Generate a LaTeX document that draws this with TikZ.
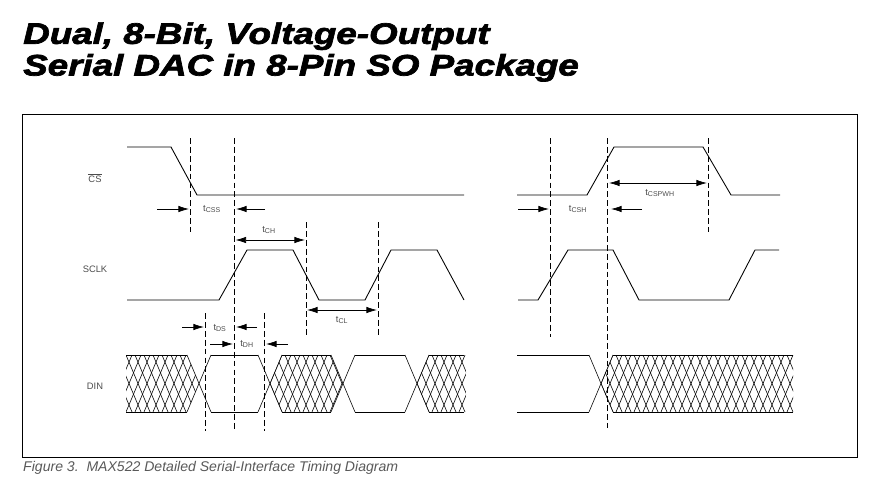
\documentclass[tikz,border=0pt]{standalone}
\usepackage{fontspec}
\setmainfont{Liberation Sans}
\newfontfamily\headingfont[FakeStretch=1.24, FakeBold=2.4]{Liberation Sans}
\usepackage{tikz}
\usetikzlibrary{arrows.meta}

\tikzset{
  signal/.style={line width=0.75pt},
  guide/.style={line width=0.65pt, dash pattern=on 5pt off 2.6pt},
  hatch/.style={line width=0.5pt},
  timing/.style={line width=0.65pt, -{Latex[length=9pt,width=5.5pt]}},
  span/.style={line width=0.65pt, {Latex[length=9pt,width=5.5pt]}-{Latex[length=9pt,width=5.5pt]}},
  label/.style={text=black!70, font=\fontsize{8}{9}\selectfont, inner sep=0pt},
}

\begin{document}
\begin{tikzpicture}[x=0.3mm, y=-0.3mm]

  \useasboundingbox (0, 0) rectangle (880, 490);

  % Heading and caption
  \node[anchor=west, align=left, inner sep=0pt, font=\fontsize{25.3}{27}\headingfont\bfseries\itshape] (heading) at (23, 52)
    {Dual, 8-Bit, Voltage-Output\\Serial DAC in 8-Pin SO Package};
  \node[anchor=west, inner sep=0pt, text=black!65, font=\fontsize{12}{14}\selectfont\itshape] (caption) at (23, 468)
    {Figure 3.\ \ MAX522 Detailed Serial-Interface Timing Diagram};

  \draw[line width=0.6pt] (22, 114) rectangle (857, 457);

  % Signal names
  \node[label] (cs) at (95, 178) {$\overline{\mbox{CS}}$};
  \node[label] (sclk) at (95, 269) {SCLK};
  \node[label] (din) at (95, 386) {DIN};

  % Left part
  \draw[signal] (127, 147) -- (171, 147) -- (197, 195) -- (464, 195);
  \draw[signal] (127, 300) -- (219, 300) -- (247, 250) -- (293, 250) -- (319, 300)
    -- (365, 300) -- (391, 250) -- (437, 250) -- (464, 300);

  \draw[guide] (190, 138) -- (190, 232);
  \draw[guide] (234.5, 138) -- (234.5, 431);
  \draw[guide] (306, 222) -- (306, 337);
  \draw[guide] (378, 222) -- (378, 337);
  \draw[guide] (205, 313) -- (205, 431);
  \draw[guide] (264.5, 313) -- (264.5, 431);

  % Right part
  \draw[signal] (517, 195) -- (587, 195) -- (614, 147) -- (703, 147) -- (731, 195) -- (780, 195);
  \draw[signal] (518, 300) -- (538, 300) -- (568, 250) -- (613, 250) -- (639, 300)
    -- (729, 300) -- (755, 250) -- (779, 250);

  \draw[guide] (550, 138) -- (550, 337);
  \draw[guide] (607, 138) -- (607, 428);
  \draw[guide] (708.5, 138) -- (708.5, 232);

  % DIN levels and edges
  \foreach \xa/\xb in {126/187, 211/258, 282/331, 355/405, 429/464, 517/589, 613/793} {
    \draw[signal] (\xa, 355) -- (\xb, 355);
    \draw[signal] (\xa, 412) -- (\xb, 412);
  }
  \foreach \xa/\xb in {187/211, 258/282, 331/355, 405/429, 589/613} {
    \draw[hatch] (\xa, 355) -- (\xb, 412);
    \draw[hatch] (\xa, 412) -- (\xb, 355);
  }

  % DIN don't-care regions
  \begin{scope}
    \clip (126, 355) -- (187, 355) -- (199, 383.5) -- (187, 412) -- (126, 412) -- cycle;
    \foreach \k in {0,...,10} {
      \draw[hatch] (108 + 9*\k, 355) -- (132 + 9*\k, 412);
      \draw[hatch] (132 + 9*\k, 355) -- (108 + 9*\k, 412);
    }
  \end{scope}
  \begin{scope}
    \clip (270, 383.5) -- (282, 355) -- (331, 355) -- (343, 383.5) -- (331, 412) -- (282, 412) -- cycle;
    \foreach \k in {0,...,10} {
      \draw[hatch] (258 + 9*\k, 355) -- (282 + 9*\k, 412);
      \draw[hatch] (282 + 9*\k, 355) -- (258 + 9*\k, 412);
    }
  \end{scope}
  \begin{scope}
    \clip (417, 383.5) -- (429, 355) -- (466, 355) -- (466, 412) -- (429, 412) -- cycle;
    \foreach \k in {0,...,7} {
      \draw[hatch] (405 + 9*\k, 355) -- (429 + 9*\k, 412);
      \draw[hatch] (429 + 9*\k, 355) -- (405 + 9*\k, 412);
    }
  \end{scope}
  \begin{scope}
    \clip (601, 383.5) -- (613, 355) -- (793, 355) -- (793, 412) -- (613, 412) -- cycle;
    \foreach \k in {0,...,24} {
      \draw[hatch] (589 + 9*\k, 355) -- (613 + 9*\k, 412);
      \draw[hatch] (613 + 9*\k, 355) -- (589 + 9*\k, 412);
    }
  \end{scope}

  % Timing marks
  \draw[timing] (157, 209) -- (189, 209);
  \draw[timing] (265, 209) -- (236, 209);
  \node[label] (tcss) at (212, 209) {t\textsubscript{CSS}};

  \draw[span] (235.5, 240) -- (305, 240);
  \node[label] (tch) at (269, 230) {t\textsubscript{CH}};

  \draw[span] (307, 310) -- (377, 310);
  \node[label] (tcl) at (342, 320) {t\textsubscript{CL}};

  \draw[timing] (182, 327) -- (204, 327);
  \draw[timing] (257, 327) -- (236, 327);
  \node[label] (tds) at (220, 328) {t\textsubscript{DS}};

  \draw[timing] (210, 344) -- (233, 344);
  \draw[timing] (288, 344) -- (266, 344);
  \node[label] (tdh) at (247, 344) {t\textsubscript{DH}};

  \draw[timing] (518, 209) -- (549, 209);
  \draw[timing] (642, 209) -- (611, 209);
  \node[label] (tcsh) at (578, 209) {t\textsubscript{CSH}};

  \draw[span] (609, 183) -- (707, 183);
  \node[label] (tcspwh) at (660, 193) {t\textsubscript{CSPWH}};

\end{tikzpicture}
\end{document}
